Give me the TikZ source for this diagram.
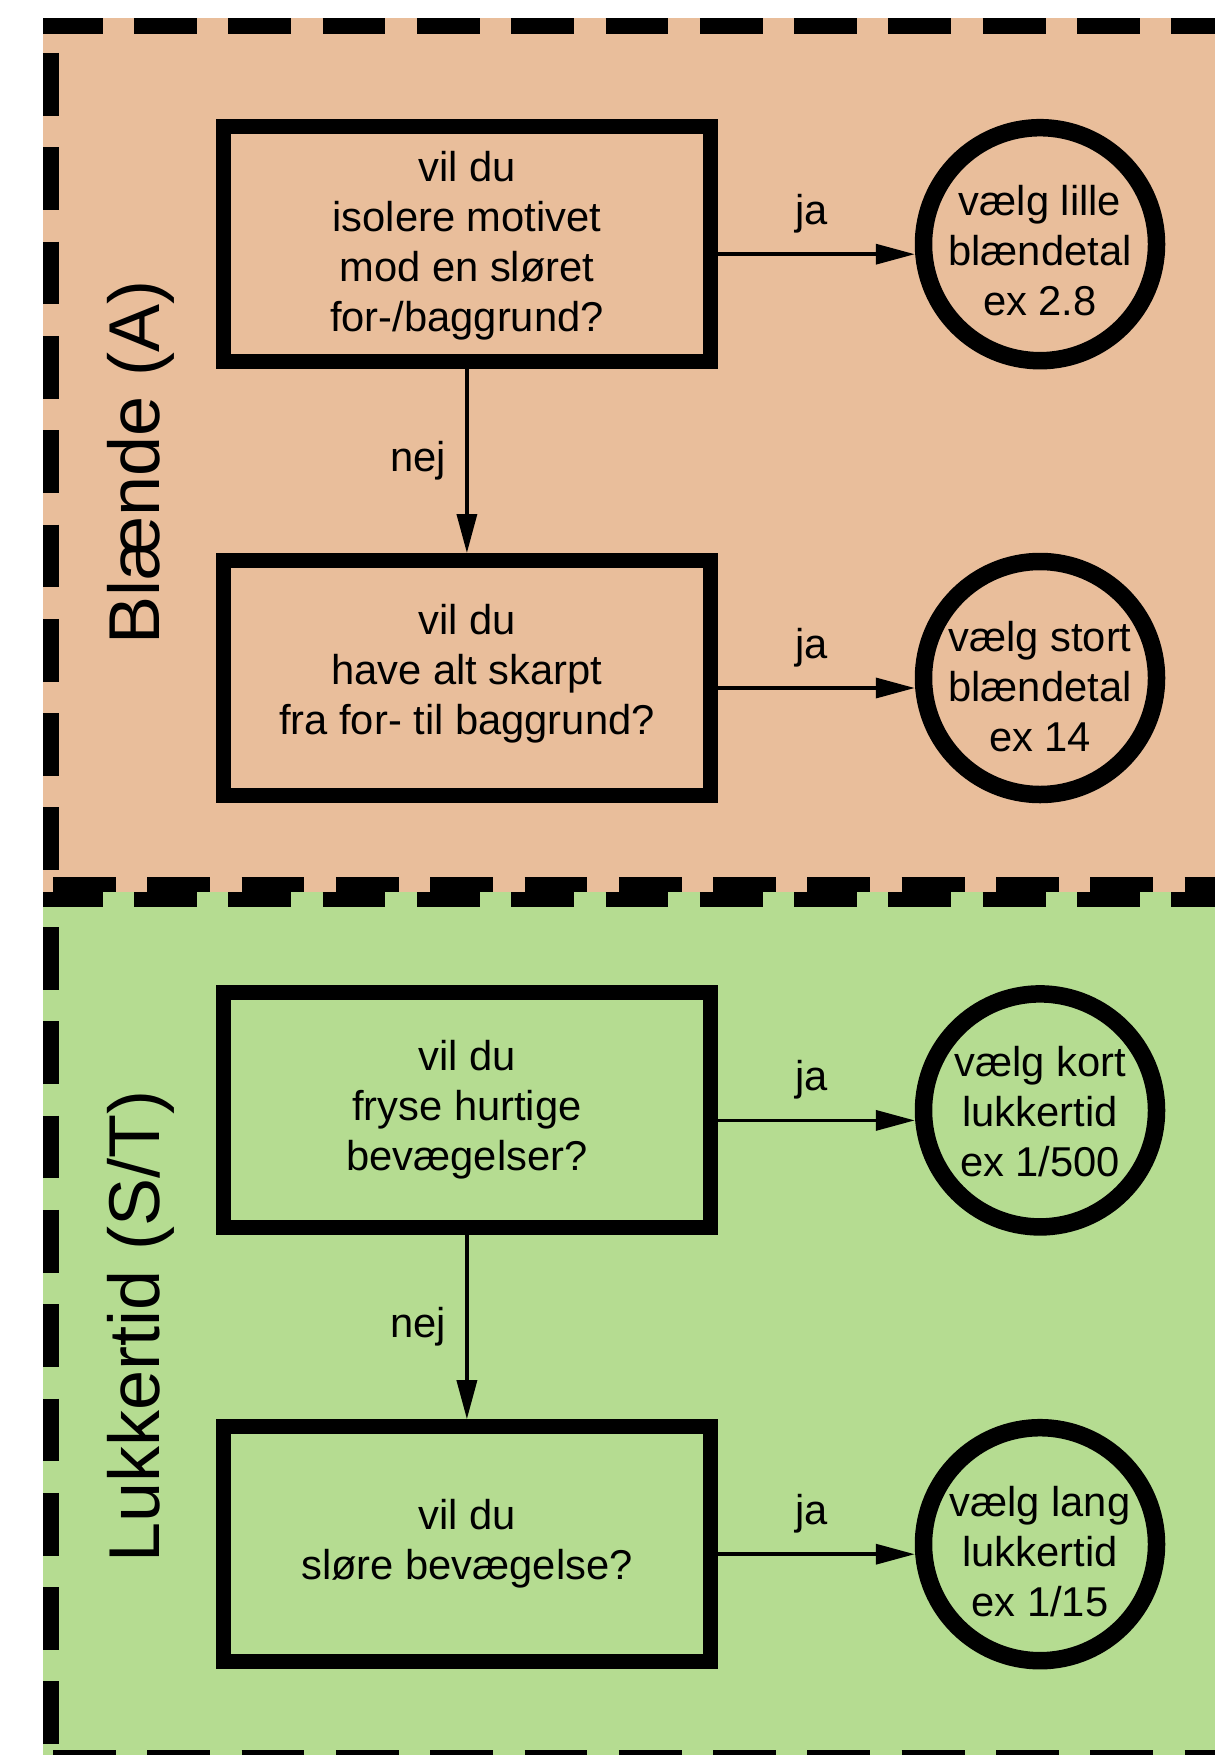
\documentclass[tikz,border=0pt]{standalone}
\usepackage{fontspec}
\setmainfont{Liberation Sans}
\usetikzlibrary{arrows.meta}
\definecolor{peach}{RGB}{233,190,155}
\definecolor{leaf}{RGB}{181,220,145}
\newcommand\topst[1]{\rule{0pt}{#1pt}}
\newcommand\botst{\rule[-24pt]{0pt}{24pt}}
\begin{document}
\begin{tikzpicture}[x=1pt,y=-1pt,
  border/.style={line width=15.7pt, dash pattern=on 62.8pt off 31.5pt},
  txt/.style={font=\fontsize{41.7pt}{50pt}\selectfont},
  qbox/.style={txt, draw, line width=15pt, rectangle, minimum width=487pt, minimum height=235pt, inner sep=0pt, align=center},
  ans/.style={txt, draw, line width=17.5pt, circle, minimum size=233pt, inner sep=-60pt, align=center},
  arr/.style={line width=3.5pt, -{Triangle[length=39pt,width=20pt]}},
  lbl/.style={txt, inner sep=0pt},
  side/.style={font=\fontsize{72pt}{86pt}\selectfont, inner sep=0pt, rotate=90, anchor=base}
]
\path[use as bounding box, clip] (0,0) rectangle (1215,1755);
\fill[white] (0,0) rectangle (1215,1755);
% panels
\fill[peach] (43,18) rectangle (1215,892);
\fill[leaf] (43,892) rectangle (1215,1755);
\draw[border, dash phase=3.3pt] (43,26) -- (1215,26);
\draw[border] (51,53) -- (51,877);
\draw[border] (53,884.5) -- (1215,884.5);
\draw[border, dash phase=3.3pt] (43,899.5) -- (1215,899.5);
\draw[border] (51,927) -- (51,1755);
\draw[border] (53,1757.5) -- (1215,1757.5);
% side labels
\node[side] (labA) at (159,462.5) {Blænde (A)};
\node[side] (labS) at (159,1326.3) {Lukkertid (S/T)};
% questions
\node[qbox] (q1) at (466.9,244.2) {\topst{49}vil du\\isolere motivet\\mod en sløret\\for-/baggrund?\botst};
\node[qbox] (q2) at (466.9,678) {\topst{36}vil du\\have alt skarpt\\fra for- til baggrund?\botst};
\node[qbox] (q3) at (466.9,1110.4) {\topst{44}vil du\\fryse hurtige\\bevægelser?\botst};
\node[qbox] (q4) at (466.9,1544.2) {\topst{45}vil du\\sløre bevægelse?\botst};
% answers
\node[ans] (a1) at (1040,244.2) {\topst{66}vælg lille\\blændetal\\ex 2.8\botst};
\node[ans] (a2) at (1040,678) {\topst{70}vælg stort\\blændetal\\ex 14\botst};
\node[ans] (a3) at (1040,1110.4) {\topst{56}vælg kort\\lukkertid\\ex 1/500\botst};
\node[ans] (a4) at (1040,1544.2) {\topst{68}vælg lang\\lukkertid\\ex 1/15\botst};
% connectors
\draw[arr] ([yshift=-10pt]q1.east) -- node[lbl, midway, anchor=base, xshift=-5pt, yshift=30pt] (ja1) {ja} ([yshift=-10pt]a1.west);
\draw[arr] ([yshift=-10pt]q2.east) -- node[lbl, midway, anchor=base, xshift=-5pt, yshift=30pt] (ja2) {ja} ([yshift=-10pt]a2.west);
\draw[arr] ([yshift=-10pt]q3.east) -- node[lbl, midway, anchor=base, xshift=-5pt, yshift=30pt] (ja3) {ja} ([yshift=-10pt]a3.west);
\draw[arr] ([yshift=-10pt]q4.east) -- node[lbl, midway, anchor=base, xshift=-5pt, yshift=30pt] (ja4) {ja} ([yshift=-10pt]a4.west);
\draw[arr] (q1.south) -- node[lbl, midway, anchor=base east, xshift=-19pt, yshift=-10.5pt] (nej1) {nej} (q2.north);
\draw[arr] (q3.south) -- node[lbl, midway, anchor=base east, xshift=-19pt, yshift=-10.5pt] (nej2) {nej} (q4.north);
\end{tikzpicture}
\end{document}
